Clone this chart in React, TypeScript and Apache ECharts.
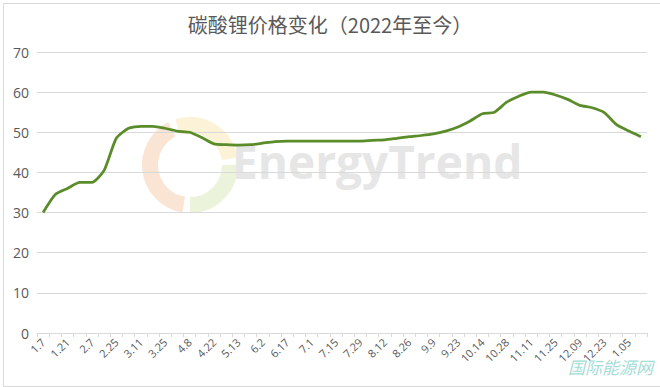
import React, { useEffect, useRef } from "react";
import * as echarts from "echarts";

const titleText = "碳酸锂价格变化（2022年至今）";

const categories = [
  "1.7", "1.14", "1.21", "1.28", "2.7", "2.18", "2.25", "3.4", "3.11", "3.18",
  "3.25", "4.1", "4.8", "4.15", "4.22", "4.29", "5.13", "5.20", "6.2", "6.10",
  "6.17", "6.24", "7.1", "7.8", "7.15", "7.22", "7.29", "8.5", "8.12", "8.19",
  "8.26", "9.2", "9.9", "9.16", "9.23", "9.30", "10.14", "10.21", "10.28", "11.04",
  "11.11", "11.18", "11.25", "12.02", "12.09", "12.16", "12.23", "12.30", "1.05", "1.12",
];

const prices = [
  30, 34.5, 36, 37.5, 37.5, 40.5, 48.5, 51, 51.5, 51.5,
  51, 50.3, 50, 48.7, 47.1, 46.9, 46.8, 46.9, 47.3, 47.7,
  47.8, 47.8, 47.8, 47.8, 47.8, 47.8, 47.8, 48, 48.1, 48.5,
  48.9, 49.2, 49.6, 50.3, 51.3, 52.8, 54.6, 55, 57.5, 59,
  60, 60, 59.3, 58.2, 56.7, 56.1, 54.9, 51.9, 50.3, 48.9,
];

const yMin = 0;
const yMax = 70;
const yStep = 10;

const watermarkText = "EnergyTrend";
const cornerMark = "国际能源网";

export default function App() {
  const ref = useRef<HTMLDivElement>(null);

  useEffect(() => {
    if (!ref.current) return;
    const chart = echarts.init(ref.current, null, { renderer: "svg" });
    const axisGray = "#d9d9d9";
    const textGray = "#595959";
    chart.setOption({
      animation: false,
      backgroundColor: "#ffffff",
      title: {
        text: titleText,
        left: "center",
        top: 9,
        textStyle: {
          fontFamily: "'Noto Sans CJK SC', 'Noto Sans', sans-serif",
          fontSize: 20,
          fontWeight: "normal",
          color: textGray,
        },
      },
      graphic: [
        {
          type: "rect",
          left: 1,
          top: 1,
          shape: { width: 657, height: 383 },
          style: { fill: "none", stroke: "#d9d9d9", lineWidth: 1 },
          z: -10,
        },
        {
          type: "arc",
          x: 190,
          y: 165,
          shape: { r: 40, startAngle: Math.PI * 0.55, endAngle: Math.PI * 1.35 },
          style: { stroke: "#f6c9a8", lineWidth: 16, fill: "none", opacity: 0.5 },
          z: -5,
        },
        {
          type: "arc",
          x: 190,
          y: 165,
          shape: { r: 40, startAngle: Math.PI * 1.4, endAngle: Math.PI * 1.95 },
          style: { stroke: "#f7e3a6", lineWidth: 16, fill: "none", opacity: 0.45 },
          z: -5,
        },
        {
          type: "arc",
          x: 190,
          y: 165,
          shape: { r: 40, startAngle: Math.PI * 0.0, endAngle: Math.PI * 0.5 },
          style: { stroke: "#d9e8b8", lineWidth: 16, fill: "none", opacity: 0.5 },
          z: -5,
        },
        {
          type: "text",
          left: 232,
          top: 138,
          style: {
            text: watermarkText,
            fontFamily: "'Open Sans', 'Noto Sans', sans-serif",
            fontSize: 46,
            fontWeight: "bold",
            fill: "#e6e6e6",
          },
          z: -5,
        },
        {
          type: "text",
          left: 568,
          top: 358,
          style: {
            text: cornerMark,
            fontFamily: "'Noto Sans CJK SC', sans-serif",
            fontSize: 17,
            fontStyle: "italic",
            fill: "#a6ddd6",
          },
          z: 50,
        },
      ],
      grid: {
        left: 37,
        right: 13,
        top: 52,
        bottom: 54,
        containLabel: false,
      },
      xAxis: {
        type: "category",
        data: categories,
        boundaryGap: true,
        axisLine: { show: true, lineStyle: { color: axisGray, width: 1 } },
        axisTick: { show: true, interval: 0, length: 4, lineStyle: { color: axisGray } },
        axisLabel: {
          interval: 1,
          rotate: 45,
          margin: 7,
          fontSize: 11,
          color: textGray,
          fontFamily: "'Open Sans', 'Noto Sans', sans-serif",
        },
        splitLine: { show: false },
      },
      yAxis: {
        type: "value",
        min: yMin,
        max: yMax,
        interval: yStep,
        axisLine: { show: false },
        axisTick: { show: false },
        axisLabel: {
          fontSize: 14,
          color: textGray,
          margin: 8,
          fontFamily: "'Open Sans', 'Noto Sans', sans-serif",
        },
        splitLine: { show: true, lineStyle: { color: axisGray, width: 1 } },
      },
      series: [
        {
          type: "line",
          data: prices,
          smooth: 0.2,
          showSymbol: false,
          symbol: "none",
          lineStyle: { color: "#5b8c2a", width: 2.75 },
          itemStyle: { color: "#5b8c2a" },
          z: 10,
        },
      ],
    });
    return () => chart.dispose();
  }, []);

  return (
    <div
      ref={ref}
      style={{ position: "fixed", left: 0, top: 0, width: 660, height: 387 }}
    />
  );
}
